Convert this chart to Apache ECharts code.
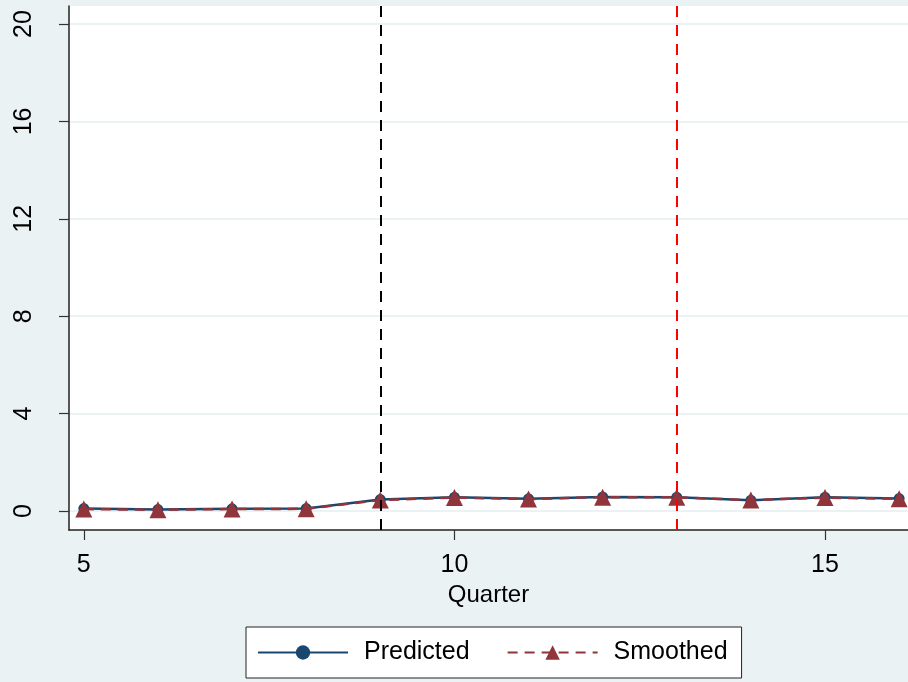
<!DOCTYPE html>
<html>
<head>
<meta charset="utf-8">
<script src="https://cdn.jsdelivr.net/npm/echarts@6/dist/echarts.min.js"></script>
<style>
  html, body, #main { width: 100%; height: 100%; margin: 0; background: #eaf2f3; }
</style>
</head>
<body>
<div id="main"></div>
<script>
// quarters and values
var quarters = [5, 6, 7, 8, 9, 10, 11, 12, 13, 14, 15, 16];
var predicted = [0.10, 0.06, 0.09, 0.10, 0.47, 0.56, 0.50, 0.58, 0.56, 0.44, 0.56, 0.51];
var smoothed = [0.08, 0.05, 0.08, 0.09, 0.45, 0.55, 0.49, 0.57, 0.56, 0.45, 0.55, 0.50];
var xTicks = [5, 10, 15];
var yTicks = [0, 4, 8, 12, 16, 20];
var eventLines = [9, 13];

var chart = echarts.init(document.getElementById('main'));

function pairs(vals) {
    return quarters.map(function (q, i) { return [q, vals[i]]; });
}

var font = 'Liberation Sans, Arial, sans-serif';

var option = {
    backgroundColor: '#eaf2f3',
    animation: false,
    grid: {
        left: 69, right: 0, top: 6, bottom: 152,
        show: true, backgroundColor: '#fff', borderWidth: 0
    },
    legend: {
        left: 246, top: 627,
        padding: [13, 14, 13, 11],
        backgroundColor: '#fff',
        borderColor: '#222',
        borderWidth: 1,
        borderRadius: 0,
        itemWidth: 90,
        itemHeight: 18,
        itemGap: 37,
        textStyle: { fontFamily: font, fontSize: 25, color: '#000', padding: [0, 0, 0, 11] },
        data: ['Predicted', 'Smoothed']
    },
    xAxis: {
        type: 'value',
        min: 4.8,
        max: 16.12,
        name: 'Quarter',
        nameLocation: 'middle',
        nameGap: 52,
        nameTextStyle: { fontFamily: font, fontSize: 24, color: '#000' },
        axisLine: { onZero: false, lineStyle: { color: '#222', width: 1.5 } },
        axisTick: { customValues: xTicks, length: 10, lineStyle: { color: '#333', width: 1.2 } },
        axisLabel: { customValues: xTicks, margin: 23, fontFamily: font, fontSize: 25, color: '#000' },
        splitLine: { show: false }
    },
    yAxis: {
        type: 'value',
        min: -0.78,
        max: 20.74,
        axisLine: { show: true, onZero: false, lineStyle: { color: '#222', width: 1.5 } },
        axisTick: { show: true, customValues: yTicks, length: 10, lineStyle: { color: '#333', width: 1.2 } },
        axisLabel: { customValues: yTicks, rotate: 90, margin: 32, fontFamily: font, fontSize: 25, color: '#000' },
        splitLine: { show: true, lineStyle: { color: '#eaf2f3', width: 2 } }
    },
    series: [
        {
            name: 'Predicted',
            type: 'line',
            data: pairs(predicted),
            symbol: 'circle',
            symbolSize: 11,
            itemStyle: { color: '#1a476f' },
            lineStyle: { color: '#1a476f', width: 2.5 },
            z: 2
        },
        {
            name: 'Smoothed',
            type: 'line',
            data: pairs(smoothed),
            symbol: 'triangle',
            symbolSize: 17,
            itemStyle: { color: '#90353b' },
            lineStyle: { color: '#90353b', width: 2.5, type: [10, 7] },
            z: 3,
            markLine: {
                silent: true,
                symbol: 'none',
                label: { show: false },
                data: [
                    { xAxis: eventLines[0], lineStyle: { color: '#000', width: 2, type: [11, 8] } },
                    { xAxis: eventLines[1], lineStyle: { color: '#ff0000', width: 2, type: [11, 8] } }
                ]
            }
        }
    ]
};

chart.setOption(option);
</script>
</body>
</html>
